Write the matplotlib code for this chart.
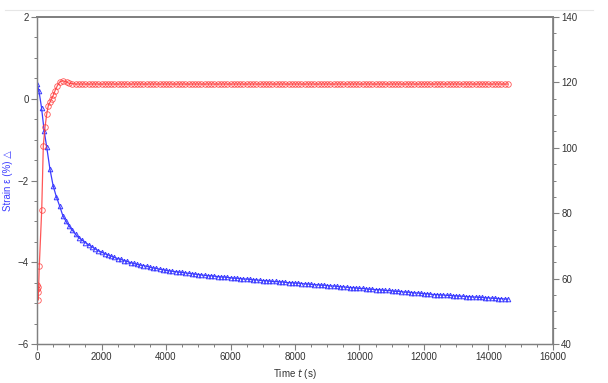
import matplotlib
matplotlib.use("Agg")
import matplotlib.pyplot as plt
from matplotlib.lines import Line2D
from matplotlib.ticker import MultipleLocator

plt.rcParams['font.family'] = ['Liberation Sans', 'DejaVu Sans']

# strain (left axis), time in s
t_strain = [0, 60, 140, 220, 300, 400, 500, 600, 700, 800, 900,
            1000, 1100, 1200, 1300, 1400, 1500, 1600, 1700, 1800, 1900,
            2000, 2100, 2200, 2300, 2400, 2500, 2600, 2700, 2800, 2900,
            3000, 3100, 3200, 3300, 3400, 3500, 3600, 3700, 3800, 3900,
            4000, 4100, 4200, 4300, 4400, 4500, 4600, 4700, 4800, 4900,
            5000, 5100, 5200, 5300, 5400, 5500, 5600, 5700, 5800, 5900,
            6000, 6100, 6200, 6300, 6400, 6500, 6600, 6700, 6800, 6900,
            7000, 7100, 7200, 7300, 7400, 7500, 7600, 7700, 7800, 7900,
            8000, 8100, 8200, 8300, 8400, 8500, 8600, 8700, 8800, 8900,
            9000, 9100, 9200, 9300, 9400, 9500, 9600, 9700, 9800, 9900,
            10000, 10100, 10200, 10300, 10400, 10500, 10600, 10700, 10800, 10900,
            11000, 11100, 11200, 11300, 11400, 11500, 11600, 11700, 11800, 11900,
            12000, 12100, 12200, 12300, 12400, 12500, 12600, 12700, 12800, 12900,
            13000, 13100, 13200, 13300, 13400, 13500, 13600, 13700, 13800, 13900,
            14000, 14100, 14200, 14300, 14400, 14500, 14600]
strain = [0.37, 0.19, -0.22, -0.78, -1.18, -1.72, -2.13, -2.40, -2.62, -2.86, -3.00,
          -3.12, -3.22, -3.32, -3.40, -3.46, -3.52, -3.57, -3.62, -3.67, -3.72,
          -3.75, -3.79, -3.82, -3.85, -3.88, -3.91, -3.93, -3.96, -3.98, -4.01,
          -4.03, -4.05, -4.07, -4.08, -4.10, -4.12, -4.14, -4.15, -4.17, -4.18,
          -4.20, -4.21, -4.22, -4.23, -4.24, -4.25, -4.26, -4.27, -4.28, -4.29,
          -4.30, -4.31, -4.32, -4.33, -4.33, -4.34, -4.35, -4.36, -4.36, -4.37,
          -4.38, -4.39, -4.39, -4.40, -4.41, -4.41, -4.42, -4.43, -4.43, -4.44,
          -4.45, -4.45, -4.46, -4.47, -4.47, -4.48, -4.48, -4.49, -4.50, -4.50,
          -4.51, -4.51, -4.52, -4.53, -4.53, -4.54, -4.55, -4.55, -4.56, -4.56,
          -4.57, -4.58, -4.58, -4.59, -4.60, -4.60, -4.61, -4.62, -4.62, -4.63,
          -4.64, -4.64, -4.65, -4.66, -4.66, -4.67, -4.67, -4.68, -4.69, -4.69,
          -4.70, -4.71, -4.71, -4.72, -4.73, -4.73, -4.74, -4.75, -4.75, -4.76,
          -4.77, -4.77, -4.78, -4.79, -4.79, -4.80, -4.80, -4.81, -4.81, -4.82,
          -4.82, -4.83, -4.83, -4.84, -4.84, -4.85, -4.85, -4.86, -4.86, -4.87,
          -4.87, -4.88, -4.88, -4.89, -4.89, -4.90, -4.90]

# second quantity (right axis)
t_right = [0, 10, 20, 30, 45, 70, 146, 195, 250, 300, 350, 400, 450, 500, 560, 630, 710, 810, 920,
           1000, 1100, 1200, 1300, 1400, 1500, 1600, 1700, 1800, 1900,
           2000, 2100, 2200, 2300, 2400, 2500, 2600, 2700, 2800, 2900,
           3000, 3100, 3200, 3300, 3400, 3500, 3600, 3700, 3800, 3900,
           4000, 4100, 4200, 4300, 4400, 4500, 4600, 4700, 4800, 4900,
           5000, 5100, 5200, 5300, 5400, 5500, 5600, 5700, 5800, 5900,
           6000, 6100, 6200, 6300, 6400, 6500, 6600, 6700, 6800, 6900,
           7000, 7100, 7200, 7300, 7400, 7500, 7600, 7700, 7800, 7900,
           8000, 8100, 8200, 8300, 8400, 8500, 8600, 8700, 8800, 8900,
           9000, 9100, 9200, 9300, 9400, 9500, 9600, 9700, 9800, 9900,
           10000, 10100, 10200, 10300, 10400, 10500, 10600, 10700, 10800, 10900,
           11000, 11100, 11200, 11300, 11400, 11500, 11600, 11700, 11800, 11900,
           12000, 12100, 12200, 12300, 12400, 12500, 12600, 12700, 12800, 12900,
           13000, 13100, 13200, 13300, 13400, 13500, 13600, 13700, 13800, 13900,
           14000, 14100, 14200, 14300, 14400, 14500, 14600]
right_vals = [57.9, 56.8, 57.5, 53.4, 56.0, 63.8, 81.1, 100.7, 106.5, 110.3, 112.9, 113.9, 114.9, 116.0, 117.5, 119.0, 120.2, 120.5, 120.1,
              119.7, 119.6, 119.5, 119.5, 119.5, 119.5, 119.5, 119.5, 119.5, 119.5,
              119.5, 119.5, 119.5, 119.5, 119.5, 119.5, 119.5, 119.5, 119.5, 119.5,
              119.5, 119.5, 119.5, 119.5, 119.5, 119.5, 119.5, 119.5, 119.5, 119.5,
              119.5, 119.5, 119.5, 119.5, 119.5, 119.5, 119.5, 119.5, 119.5, 119.5,
              119.5, 119.5, 119.5, 119.5, 119.5, 119.5, 119.5, 119.5, 119.5, 119.5,
              119.5, 119.5, 119.5, 119.5, 119.5, 119.5, 119.5, 119.5, 119.5, 119.5,
              119.5, 119.5, 119.5, 119.5, 119.5, 119.5, 119.5, 119.5, 119.5, 119.5,
              119.5, 119.5, 119.5, 119.5, 119.5, 119.5, 119.5, 119.5, 119.5, 119.5,
              119.5, 119.5, 119.5, 119.5, 119.5, 119.5, 119.5, 119.5, 119.5, 119.5,
              119.5, 119.5, 119.5, 119.5, 119.5, 119.5, 119.5, 119.5, 119.5, 119.5,
              119.5, 119.5, 119.5, 119.5, 119.5, 119.5, 119.5, 119.5, 119.5, 119.5,
              119.5, 119.5, 119.5, 119.5, 119.5, 119.5, 119.5, 119.5, 119.5, 119.5,
              119.5, 119.5, 119.5, 119.5, 119.5, 119.5, 119.5, 119.5, 119.5, 119.5,
              119.5, 119.5, 119.5, 119.5, 119.5, 119.5, 119.5]

BLUE = "#3c3cff"
RED = "#ff3a3a"
GRAY = "#808080"

fig = plt.figure(figsize=(6.08, 3.83), dpi=100)
ax = fig.add_axes([0.0609, 0.1018, 0.8486, 0.8538])
ax2 = ax.twinx()

ax.plot(t_strain, strain, color=BLUE, lw=0.9, marker="^", ms=3.3,
        mfc="none", mec=BLUE, mew=0.7, zorder=3)
ax2.plot(t_right, right_vals, color=RED, lw=0.9, marker="o", ms=4.0,
         mfc="none", mec=RED, mew=0.6, alpha=0.85)

ax.set_xlim(0, 16000)
ax.set_ylim(-6, 2)
ax2.set_ylim(40, 140)

ax.xaxis.set_major_locator(MultipleLocator(2000))
ax.xaxis.set_minor_locator(MultipleLocator(500))
ax.yaxis.set_major_locator(MultipleLocator(2))
ax.yaxis.set_minor_locator(MultipleLocator(0.5))
ax2.yaxis.set_major_locator(MultipleLocator(20))
ax2.yaxis.set_minor_locator(MultipleLocator(5))

for a in (ax, ax2):
    a.tick_params(which="major", direction="out", length=4, width=0.8,
                  color=GRAY, labelsize=7, labelcolor="#333333", pad=2)
    a.tick_params(which="minor", direction="out", length=2, width=0.7, color=GRAY)
    for s in a.spines.values():
        s.set_color(GRAY)
        s.set_linewidth(0.9)
ax.tick_params(top=False, which="both")
ax.spines["top"].set_linewidth(1.3)
ax2.spines["top"].set_linewidth(1.3)
ax2.spines["right"].set_linewidth(1.2)

ax.set_xlabel("Time $t$ (s)", fontsize=7, color="#333333", labelpad=3)
ax.set_ylabel("Strain ε (%) △", fontsize=7, color=BLUE)
ax.yaxis.set_label_coords(-0.046, 0.5)

fig.add_artist(Line2D([0.008, 0.975], [0.974, 0.974], color="#e6e6e6", lw=0.8))

fig.savefig("out.png", dpi=100)
